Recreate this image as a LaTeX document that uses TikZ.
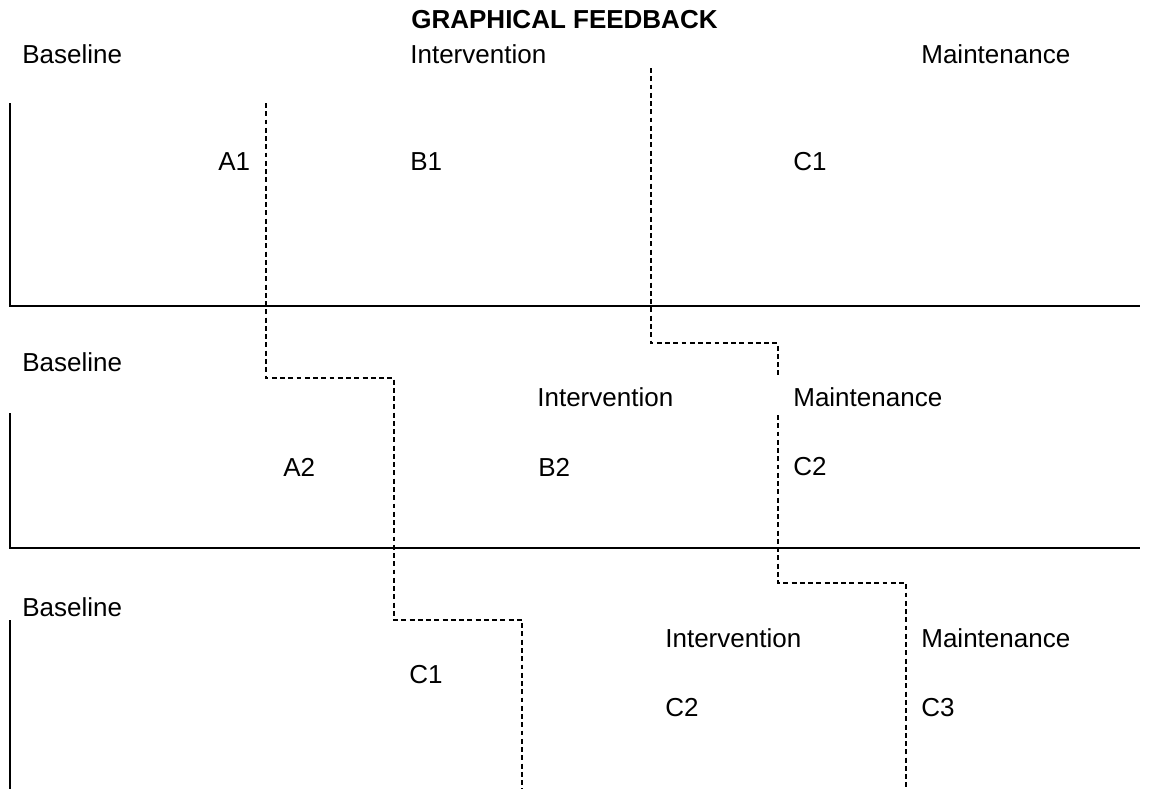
\documentclass[tikz,border=0pt]{standalone}
\usepackage{fontspec}
\setmainfont{Liberation Sans}
\begin{document}
\begin{tikzpicture}[x=0.02cm,y=-0.02cm,
    lbl/.style={anchor=west,inner sep=0pt,font=\fontsize{14.8}{18}\selectfont},
    axis/.style={line width=1.1pt},
    phase/.style={line width=1.2pt,dash pattern=on 2.8pt off 1.9pt}]
        \useasboundingbox (0,0) rectangle (1150,789);

        \node[lbl,font=\bfseries\fontsize{14.8}{18}\selectfont] (title) at (411,20) {GRAPHICAL FEEDBACK};

        % axes of the three panels
        \draw[axis] (10,103) -- (10,306) -- (1140,306);
        \draw[axis] (10,413) -- (10,548) -- (1140,548);
        \draw[axis] (10,620) -- (10,789);

        % phase change lines
        \draw[phase] (266,103) -- (266,378) -- (394,378) -- (394,620) -- (522,620) -- (522,789);
        \draw[phase] (651,68) -- (651,343) -- (778,343) -- (778,378);
        \draw[phase] (778,415) -- (778,583) -- (906,583) -- (906,789);

        % panel 1
        \node[lbl] (base1) at (22,54) {Baseline};
        \node[lbl] (int1) at (410,54) {Intervention};
        \node[lbl] (maint1) at (921,54) {Maintenance};
        \node[lbl] (a1) at (218,162) {A1};
        \node[lbl] (b1) at (410,162) {B1};
        \node[lbl] (c1) at (793,162) {C1};

        % panel 2
        \node[lbl] (base2) at (22,362) {Baseline};
        \node[lbl] (int2) at (537,397) {Intervention};
        \node[lbl] (maint2) at (793,397) {Maintenance};
        \node[lbl] (a2) at (283,467) {A2};
        \node[lbl] (b2) at (538,467) {B2};
        \node[lbl] (c2) at (793,467) {C2};

        % panel 3
        \node[lbl] (base3) at (22,607) {Baseline};
        \node[lbl] (int3) at (665,638) {Intervention};
        \node[lbl] (maint3) at (921,638) {Maintenance};
        \node[lbl] (c31) at (409,675) {C1};
        \node[lbl] (c32) at (665,708) {C2};
        \node[lbl] (c33) at (921,708) {C3};
    \end{tikzpicture}
\end{document}
